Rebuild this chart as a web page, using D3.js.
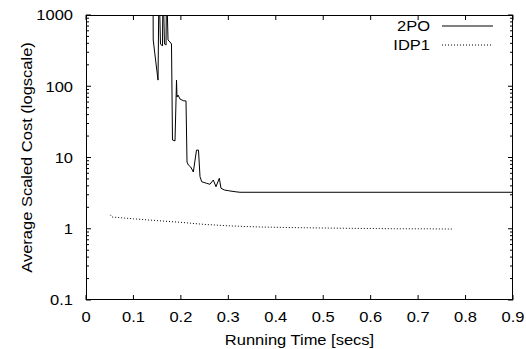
<!DOCTYPE html>
<html><head><meta charset="utf-8">
<script src="https://cdn.jsdelivr.net/npm/d3@7"></script>
<style>
html,body{margin:0;padding:0;background:#fff;}
text{font-family:"Liberation Sans",Arial,sans-serif;fill:#000;}
</style></head>
<body><svg id="c" width="526" height="349"></svg>
<script>
// 2PO series (x in secs, y scaled cost); values above 1000 are clipped
const po2X = [0.1412,0.1417,0.1454,0.1518,0.1539,0.1570,0.1612,0.1623,0.1654,0.1687,0.1697,0.1729,0.1771,0.1802,0.1823,0.1876,0.1908,0.1918,0.1939,0.1981,0.2051,0.2108,0.2129,0.2157,0.2207,0.2241,0.2262,0.2329,0.2371,0.2403,0.2439,0.2544,0.2613,0.2683,0.2740,0.2810,0.2846,0.2916,0.3000,0.3141,0.3247,0.9];
const po2Y = [3000,446,275,122,3000,392,367,3000,392,379,3000,446,418,392,17.6,17.1,122,70.6,75.3,66.2,62.7,62.1,8.65,7.85,7.36,6.68,6.26,12.7,12.7,5.38,4.57,4.34,4.21,4.83,3.89,5.11,3.70,3.50,3.42,3.31,3.25,3.25];
// IDP1 series
const idpX = [0.0512,0.0548,0.1,0.15,0.2,0.25,0.3,0.333,0.373,0.45,0.55,0.65,0.719,0.774];
const idpY = [1.57,1.46,1.38,1.30,1.23,1.15,1.10,1.077,1.056,1.035,1.015,1.0,0.997,0.99];
const xTicks = [0,0.1,0.2,0.3,0.4,0.5,0.6,0.7,0.8,0.9];
const yTicks = [0.1,1,10,100,1000];
const seriesNames = ["2PO","IDP1"];

const svg = d3.select("#c");
const L=86, R=513, T=15, B=300;
const SX = 1.1; // horizontal stretch of glyphs
const x = d3.scaleLinear().domain([0,0.9]).range([L,R]);
const y = d3.scaleLog().domain([0.1,1000]).range([B,T]);

function txt(px, py, s, anchor, rot){
  return svg.append("text")
    .attr("transform", `translate(${px},${py})` + (rot ? ` rotate(${rot})` : "") + ` scale(${SX},1)`)
    .attr("text-anchor", anchor).attr("font-size", 15).text(s);
}

const minor=[];
for (let d=0.1; d<1000; d*=10) for (let k=2;k<=9;k++) minor.push(d*k);

const g = svg.append("g");
yTicks.forEach(v=>{
  g.append("line").attr("x1",L).attr("x2",L+5).attr("y1",y(v)).attr("y2",y(v)).attr("stroke","#000");
  g.append("line").attr("x1",R).attr("x2",R-5).attr("y1",y(v)).attr("y2",y(v)).attr("stroke","#000");
  txt(73, y(v)+5.3, String(v), "end");
});
minor.forEach(v=>{
  g.append("line").attr("x1",L).attr("x2",L+3).attr("y1",y(v)).attr("y2",y(v)).attr("stroke","#000");
  g.append("line").attr("x1",R).attr("x2",R-3).attr("y1",y(v)).attr("y2",y(v)).attr("stroke","#000");
});
xTicks.forEach(v=>{
  g.append("line").attr("x1",x(v)).attr("x2",x(v)).attr("y1",B).attr("y2",B-5).attr("stroke","#000");
  g.append("line").attr("x1",x(v)).attr("x2",x(v)).attr("y1",T).attr("y2",T+5).attr("stroke","#000");
  txt(x(v), 322, String(v), "middle");
});

svg.append("defs").append("clipPath").attr("id","clip").append("rect")
  .attr("x",L).attr("y",T).attr("width",R-L).attr("height",B-T);

const line = d3.line().x(d=>x(d[0])).y(d=>y(d[1]));
const po2 = po2X.map((v,i)=>[v,po2Y[i]]);
const idp = idpX.map((v,i)=>[v,idpY[i]]);
svg.append("path").attr("d",line(po2)).attr("fill","none").attr("stroke","#000").attr("stroke-width",1).attr("clip-path","url(#clip)");
svg.append("path").attr("d",line(idp)).attr("fill","none").attr("stroke","#000").attr("stroke-width",1).attr("stroke-dasharray","1,2").attr("clip-path","url(#clip)");

svg.append("rect").attr("x",L+0.5).attr("y",T+0.5).attr("width",R-L-1).attr("height",B-T-1).attr("fill","none").attr("stroke","#000");

seriesNames.forEach((n,i)=>{
  const yy = 26 + i*19;
  txt(430, yy+5.3, n, "end");
  svg.append("line").attr("x1",442).attr("x2",493).attr("y1",yy).attr("y2",yy).attr("stroke","#000")
    .attr("stroke-dasharray", i===1 ? "1,2" : null);
});

txt((L+R)/2, 345, "Running Time [secs]", "middle");
txt(32, (T+B)/2, "Average Scaled Cost (logscale)", "middle", -90);
</script></body></html>
